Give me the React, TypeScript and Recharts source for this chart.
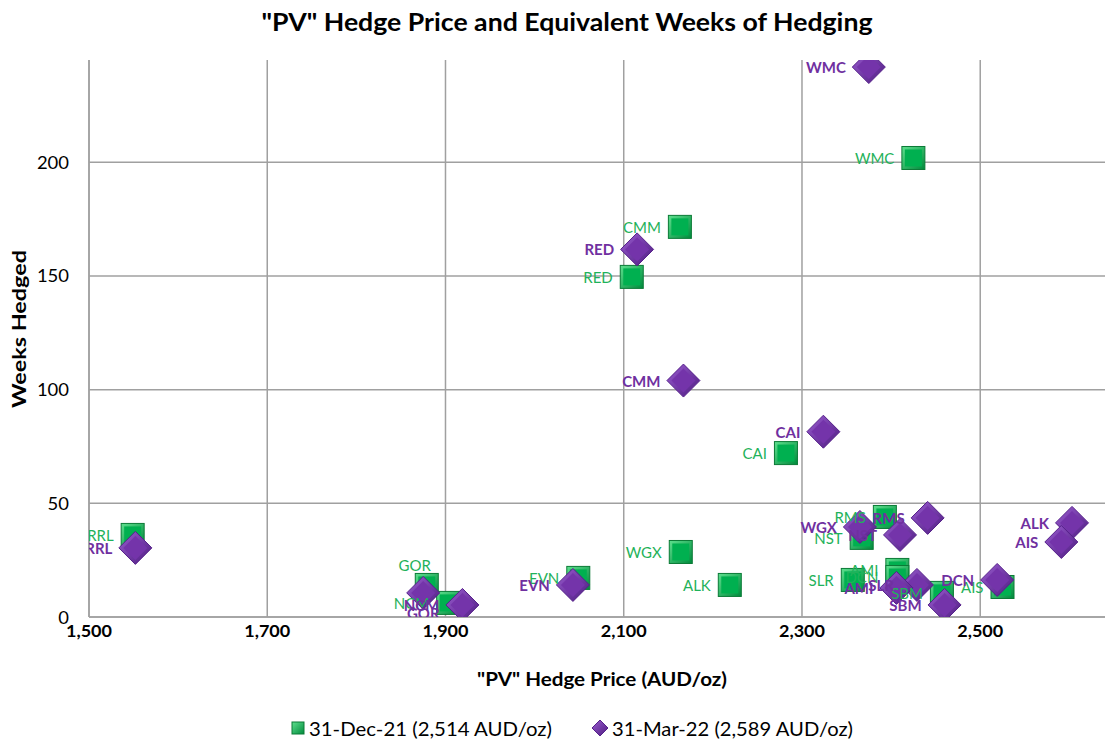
import React from 'react';
import { ScatterChart, Scatter, XAxis, YAxis, CartesianGrid } from 'recharts';

const tickers = ['RRL', 'GOR', 'NCM', 'EVN', 'WGX', 'ALK', 'CAI', 'RED', 'CMM', 'WMC', 'RMS', 'NST', 'SLR', 'AMI', 'DCN', 'SBM', 'AIS'];
const dec21Price = [1549, 1879, 1903, 2049, 2164, 2219, 2282, 2109, 2163, 2425, 2393, 2367, 2357, 2407, 2407, 2457, 2525];
const dec21Weeks = [36.1, 14.1, 6.2, 17.2, 28.6, 14.1, 72.1, 149.6, 171.6, 201.9, 44.0, 34.8, 16.3, 20.7, 17.6, 10.6, 13.2];
const mar22Price = [1552, 1875, 1919, 2043, 2365, 2603, 2324, 2115, 2167, 2375, 2441, 2410, 2429, 2406, 2519, 2460, 2591];
const mar22Weeks = [30.4, 10.6, 5.3, 14.1, 39.6, 41.4, 81.5, 161.7, 104.0, 241.9, 43.6, 36.1, 14.1, 12.8, 16.3, 5.3, 33.0];
const xTicks = [1500, 1700, 1900, 2100, 2300, 2500];
const yTicks = [0, 50, 100, 150, 200];
const seriesNames = ['31-Dec-21 (2,514 AUD/oz)', '31-Mar-22 (2,589 AUD/oz)'];
const chartTitle = '"PV" Hedge Price and Equivalent Weeks of Hedging';
const xTitle = '"PV" Hedge Price (AUD/oz)';
const yTitle = 'Weeks Hedged';

const dec21 = tickers.map((t, i) => ({ name: t, x: dec21Price[i], y: dec21Weeks[i] }));
const mar22 = tickers.map((t, i) => ({ name: t, x: mar22Price[i], y: mar22Weeks[i] }));

const FONT = 'Lato, sans-serif';
const GREEN_TXT = '#1FB25A';
const PURPLE_TXT = '#7030A0';
const LBL_SIZE = 15;

// label placement exceptions (style only)
const greenAbove = new Set(['GOR']);
const purpleBelow = new Set(['GOR']);

const fmt = (v: number) => v.toLocaleString('en-US');

const SquareShape = (p: any) => {
  const { cx, cy } = p;
  if (cx == null || cy == null) return null;
  const s = 11.5;
  return (
    <g>
      <rect x={cx - s} y={cy - s} width={2 * s} height={2 * s} fill="url(#gSq)" stroke="#0B7A36" strokeWidth={1} />
      <rect x={cx - s + 3} y={cy - s + 3} width={2 * s - 6} height={2 * s - 6} fill="#00B050" />
    </g>
  );
};

const DiamondShape = (p: any) => {
  const { cx, cy } = p;
  if (cx == null || cy == null) return null;
  const r = 16.5;
  const r2 = 12;
  return (
    <g>
      <polygon points={`${cx},${cy - r} ${cx + r},${cy} ${cx},${cy + r} ${cx - r},${cy}`} fill="url(#pDia)" stroke="#55208A" strokeWidth={1} />
      <polygon points={`${cx},${cy - r2} ${cx + r2},${cy} ${cx},${cy + r2} ${cx - r2},${cy}`} fill="#7434AA" />
    </g>
  );
};

const GreenLabel = (p: any) => {
  const { cx, cy, payload } = p;
  if (cx == null) return null;
  const above = greenAbove.has(payload.name);
  return (
    <text
      x={above ? cx - 12 : cx - 19}
      y={above ? cy - 20 : cy}
      textAnchor={above ? 'middle' : 'end'}
      dominantBaseline="central"
      fontFamily={FONT}
      fontSize={LBL_SIZE}
      fill={GREEN_TXT}
    >
      {payload.name}
    </text>
  );
};

const PurpleLabel = (p: any) => {
  const { cx, cy, payload } = p;
  if (cx == null) return null;
  const below = purpleBelow.has(payload.name);
  return (
    <text
      x={below ? cx : cx - 23}
      y={below ? cy + 20 : cy}
      textAnchor={below ? 'middle' : 'end'}
      dominantBaseline="central"
      fontFamily={FONT}
      fontSize={LBL_SIZE}
      fontWeight="bold"
      fill={PURPLE_TXT}
    >
      {payload.name}
    </text>
  );
};

const YTick = (p: any) => {
  const s = String(p.payload.value);
  return (
    <text x={p.x} y={p.y} textAnchor="end" dominantBaseline="central" fontFamily={FONT} fontSize={17} fill="#000" textLength={10.7 * s.length} lengthAdjust="spacingAndGlyphs">
      {s}
    </text>
  );
};

const XTick = (p: any) => {
  const s = fmt(p.payload.value);
  return (
    <text x={p.x} y={p.y + 5} textAnchor="middle" dominantBaseline="central" fontFamily={FONT} fontSize={17} fontWeight="bold" fill="#000" textLength={46} lengthAdjust="spacingAndGlyphs">
      {s}
    </text>
  );
};

export default function App() {
  return (
    <div style={{ position: 'absolute', left: 0, top: 0, width: 1106, height: 742, background: '#fff' }}>
      <ScatterChart width={1106} height={742} margin={{ top: 60, right: 1, left: 0, bottom: 0 }}>
        <defs>
          <linearGradient id="gSq" x1="0" y1="0" x2="1" y2="1">
            <stop offset="0%" stopColor="#5EE08E" />
            <stop offset="100%" stopColor="#008A3C" />
          </linearGradient>
          <linearGradient id="pDia" x1="0" y1="0" x2="1" y2="1">
            <stop offset="0%" stopColor="#9A5CD0" />
            <stop offset="100%" stopColor="#4E1C80" />
          </linearGradient>
        </defs>
        <text x={567} y={21} textAnchor="middle" dominantBaseline="central" fontFamily={FONT} fontSize={25} fontWeight="bold" fill="#000" textLength={611} lengthAdjust="spacingAndGlyphs">
          {chartTitle}
        </text>
        <CartesianGrid stroke="#A0A0A0" strokeWidth={1.5} horizontalValues={yTicks} verticalValues={xTicks} />
        <XAxis
          type="number"
          dataKey="x"
          domain={[1500, 2640]}
          ticks={xTicks}
          allowDataOverflow
          height={125}
          axisLine={{ stroke: '#A0A0A0', strokeWidth: 1.5 }}
          tickLine={false}
          tickSize={0}
          tickMargin={8}
          tick={XTick}
        />
        <YAxis
          type="number"
          dataKey="y"
          domain={[0, 245]}
          ticks={yTicks}
          allowDataOverflow
          width={89}
          axisLine={{ stroke: '#A0A0A0', strokeWidth: 1.5 }}
          tickLine={false}
          tickSize={0}
          tickMargin={20}
          tick={YTick}
        />
        <Scatter data={dec21} shape={SquareShape} isAnimationActive={false} />
        <Scatter data={mar22} shape={DiamondShape} isAnimationActive={false} />
        <Scatter data={dec21} shape={GreenLabel} isAnimationActive={false} />
        <Scatter data={mar22} shape={PurpleLabel} isAnimationActive={false} />
        <text x={602} y={678} textAnchor="middle" dominantBaseline="central" fontFamily={FONT} fontSize={19} fontWeight="bold" fill="#000" textLength={250} lengthAdjust="spacingAndGlyphs">
          {xTitle}
        </text>
        <text x={18} y={329} transform="rotate(-90 18 329)" textAnchor="middle" dominantBaseline="central" fontFamily={FONT} fontSize={19} fontWeight="bold" fill="#000" textLength={158} lengthAdjust="spacingAndGlyphs">
          {yTitle}
        </text>
        <g>
          <rect x={292} y={722} width={12} height={12} fill="url(#gSq)" stroke="#0B7A36" strokeWidth={1} />
          <text x={309} y={728} dominantBaseline="central" fontFamily={FONT} fontSize={19} fill="#000" textLength={243} lengthAdjust="spacingAndGlyphs">
            {seriesNames[0]}
          </text>
          <polygon points="600,720 608,728 600,736 592,728" fill="url(#pDia)" stroke="#55208A" strokeWidth={1} />
          <text x={612} y={728} dominantBaseline="central" fontFamily={FONT} fontSize={19} fill="#000" textLength={241} lengthAdjust="spacingAndGlyphs">
            {seriesNames[1]}
          </text>
        </g>
      </ScatterChart>
    </div>
  );
}
